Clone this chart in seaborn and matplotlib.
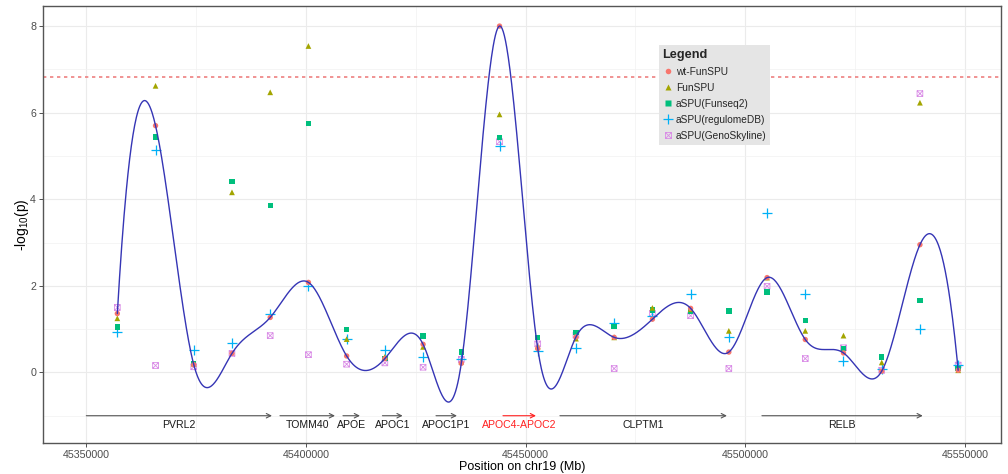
import numpy as np
import pandas as pd
import matplotlib
matplotlib.use("Agg")
import matplotlib.pyplot as plt
from matplotlib.lines import Line2D
from matplotlib.path import Path
import matplotlib.ticker as mticker
import seaborn as sns

# ---------------- data ----------------
positions = [45357060, 45365760, 45374460, 45383160, 45391860, 45400560, 45409260,
             45417960, 45426660, 45435360, 45444060, 45452760, 45461460, 45470160,
             45478860, 45487560, 45496260, 45504960, 45513660, 45522360, 45531060,
             45539760, 45548460]
wt_funspu = [1.36, 5.70, 0.18, 0.44, 1.27, 2.08, 0.38, 0.32, 0.65, 0.21, 8.00, 0.55,
             0.82, 0.81, 1.23, 1.48, 0.47, 2.19, 0.76, 0.45, 0.03, 2.95, 0.05]
funspu = [1.25, 6.62, 0.20, 4.16, 6.47, 7.54, 0.77, 0.36, 0.59, 0.25, 5.96, 0.60,
          0.78, 0.81, 1.49, 1.46, 0.96, 2.19, 0.96, 0.85, 0.23, 6.23, 0.05]
aspu_funseq2 = [1.05, 5.44, 0.21, 4.41, 3.85, 5.75, 0.99, 0.32, 0.84, 0.47, 5.43, 0.81,
                0.92, 1.06, 1.44, 1.42, 1.42, 1.86, 1.20, 0.55, 0.36, 1.66, 0.09]
aspu_regulomedb = [0.94, 5.13, 0.52, 0.67, 1.36, 1.99, 0.77, 0.51, 0.36, 0.32, 5.22, 0.50,
                   0.57, 1.15, 1.30, 1.82, 0.82, 3.68, 1.82, 0.27, 0.08, 1.01, 0.17]
aspu_genoskyline = [1.50, 0.16, 0.13, 0.44, 0.85, 0.41, 0.19, 0.22, 0.12, 0.30, 5.33, 0.66,
                    0.86, 0.09, 1.36, 1.31, 0.09, 1.99, 0.32, 0.57, 0.05, 6.44, 0.17]
series_names = ["wt-FunSPU", "FunSPU", "aSPU(Funseq2)", "aSPU(regulomeDB)", "aSPU(GenoSkyline)"]
threshold = 6.82

gene_names = ["PVRL2", "TOMM40", "APOE", "APOC1", "APOC1P1", "APOC4-APOC2", "CLPTM1", "RELB"]
gene_start = [45350000, 45394080, 45408420, 45417400, 45429600, 45444840, 45457810, 45503790]
gene_end = [45392260, 45406600, 45412290, 45422000, 45434370, 45452350, 45495820, 45540400]
highlight_gene = "APOC4-APOC2"

xticks = [45350000, 45400000, 45450000, 45500000, 45550000]
yticks = [0, 2, 4, 6, 8]

# ---------------- spline (FMM end conditions, like R's spline()) ----------------
def fmm_spline(x, y, xs):
    x = np.asarray(x, float); y = np.asarray(y, float)
    x0 = x[0]; sc = x[1] - x[0]
    t = (x - x0) / sc; ts = (np.asarray(xs, float) - x0) / sc
    n = len(t); h = np.diff(t); sl = np.diff(y) / h

    def dd3(i):
        d2a = (sl[i + 1] - sl[i]) / (t[i + 2] - t[i])
        d2b = (sl[i + 2] - sl[i + 1]) / (t[i + 3] - t[i + 1])
        return (d2b - d2a) / (t[i + 3] - t[i])

    A = np.zeros((n, n)); b = np.zeros(n)
    for i in range(1, n - 1):
        A[i, i - 1] = h[i - 1]; A[i, i] = 2 * (h[i - 1] + h[i]); A[i, i + 1] = h[i]
        b[i] = 6 * (sl[i] - sl[i - 1])
    A[0, 0] = -1; A[0, 1] = 1; b[0] = 6 * h[0] * dd3(0)
    A[-1, -2] = -1; A[-1, -1] = 1; b[-1] = 6 * h[-1] * dd3(n - 4)
    M = np.linalg.solve(A, b)
    idx = np.clip(np.searchsorted(t, ts) - 1, 0, n - 2)
    out = np.empty_like(ts)
    for j, (tv, i) in enumerate(zip(ts, idx)):
        a = t[i + 1] - tv; bb = tv - t[i]; hi = h[i]
        out[j] = (M[i] * a ** 3 / (6 * hi) + M[i + 1] * bb ** 3 / (6 * hi)
                  + (y[i] / hi - M[i] * hi / 6) * a + (y[i + 1] / hi - M[i + 1] * hi / 6) * bb)
    return out

xs = np.linspace(positions[0], positions[-1], 1500)
curve = pd.DataFrame({"x": xs, "y": fmm_spline(positions, wt_funspu, xs)})

# ---------------- figure ----------------
sns.set_theme(style="whitegrid")
plt.rcParams["font.family"] = ["Liberation Sans", "DejaVu Sans"]
plt.rcParams["mathtext.fontset"] = "custom"
plt.rcParams["mathtext.rm"] = "Liberation Sans"
plt.rcParams["mathtext.it"] = "Liberation Sans:italic"

fig = plt.figure(figsize=(10.08, 4.74), dpi=100)
ax = fig.add_axes([0.0427, 0.0654, 0.9503, 0.9216])
ax.set_facecolor("white")

colors = ["#F8766D", "#A3A500", "#00BF7D", "#00B0F6", "#E76BF3"]
sqx = Path([(-1, -1), (1, -1), (1, 1), (-1, 1), (-1, -1), (-1, -1), (1, 1), (-1, 1), (1, -1)],
           [Path.MOVETO, Path.LINETO, Path.LINETO, Path.LINETO, Path.CLOSEPOLY,
            Path.MOVETO, Path.LINETO, Path.MOVETO, Path.LINETO])
styles = [
    dict(marker="o", s=15),
    dict(marker="^", s=17),
    dict(marker="s", s=15),
    dict(marker="+", s=48, linewidths=0.9),
    dict(marker=sqx, s=17, linewidths=0.6),
]
all_vals = [wt_funspu, funspu, aspu_funseq2, aspu_regulomedb, aspu_genoskyline]
df = pd.DataFrame({"pos": positions * 5,
                   "val": sum(all_vals, []),
                   "method": sum([[n] * len(positions) for n in series_names], [])})

draw_order = [4, 3, 2, 1, 0]
for i in draw_order:
    sub = df[df["method"] == series_names[i]]
    st = dict(styles[i])
    if i in (0, 1, 2):
        kw = dict(edgecolor="none")
    elif i == 4:
        kw = dict(edgecolor="#D98BE6", facecolor="none")
    else:
        kw = dict(edgecolor=colors[i])
    sns.scatterplot(data=sub, x="pos", y="val", color=colors[i], ax=ax, legend=False,
                    zorder=3, **st, **kw)

sns.lineplot(data=curve, x="x", y="y", ax=ax, color="#3535B5", lw=1.0, zorder=4,
             estimator=None, sort=False)

ax.axhline(threshold, color="#EE8080", lw=1.2, ls=(0, (2, 2.2)), zorder=2)

for name, s, e in zip(gene_names, gene_start, gene_end):
    col = "#FF2020" if name == highlight_gene else "#555555"
    ax.annotate("", xy=(e, -1.0), xytext=(s, -1.0),
                arrowprops=dict(arrowstyle="->", color=col, lw=0.8,
                                shrinkA=0, shrinkB=0, mutation_scale=8))
    ax.text((s + e) / 2, -1.22, name, ha="center", va="center", fontsize=7.6,
            color="#FF2020" if name == highlight_gene else "#1A1A1A")

ax.set_xlim(45340150, 45558200)
ax.set_ylim(-1.63, 8.46)
ax.set_xticks(xticks)
ax.set_xticklabels([str(v) for v in xticks])
ax.set_yticks(yticks)
ax.xaxis.set_minor_locator(mticker.MultipleLocator(25000))
ax.yaxis.set_minor_locator(mticker.MultipleLocator(1))
ax.grid(True, which="major", color="#EBEBEB", lw=0.8)
ax.grid(True, which="minor", color="#F2F2F2", lw=0.5)
ax.tick_params(axis="both", which="major", labelsize=7.7, labelcolor="#4D4D4D",
               color="#333333", length=3, width=0.6, pad=2, direction="out",
               bottom=True, left=True)
ax.tick_params(axis="both", which="minor", length=0)
for sp in ax.spines.values():
    sp.set_visible(True)
    sp.set_color("#555555")
    sp.set_linewidth(1.0)

ax.set_xlabel("Position on chr19 (Mb)", fontsize=9, color="black", labelpad=1)
ax.set_ylabel("-log$_{10}$(p)", fontsize=10, color="black", labelpad=-1)

handles = []
for i in range(5):
    st = styles[i]
    if i == 4:
        h = Line2D([], [], ls="none", marker=sqx, markersize=4.2, markerfacecolor="none",
                   markeredgecolor="#D98BE6", markeredgewidth=0.6)
    elif i == 3:
        h = Line2D([], [], ls="none", marker="+", markersize=7, markeredgecolor=colors[i],
                   markeredgewidth=0.9)
    else:
        h = Line2D([], [], ls="none", marker=st["marker"], markersize=4.0,
                   markerfacecolor=colors[i], markeredgecolor="none")
    handles.append(h)
leg = ax.legend(handles, series_names, title="Legend", loc="upper left",
                bbox_to_anchor=(0.643, 0.911), borderaxespad=0, fontsize=7.3,
                title_fontsize=9.2, frameon=True, facecolor="#E5E5E5", edgecolor="none",
                fancybox=False, framealpha=1, handletextpad=0.3, labelspacing=0.6,
                handlelength=1.0, borderpad=0.35)
leg._legend_box.align = "left"
leg.get_title().set_fontweight("semibold")
leg.set_zorder(10)

fig.savefig("out.png", dpi=100)
